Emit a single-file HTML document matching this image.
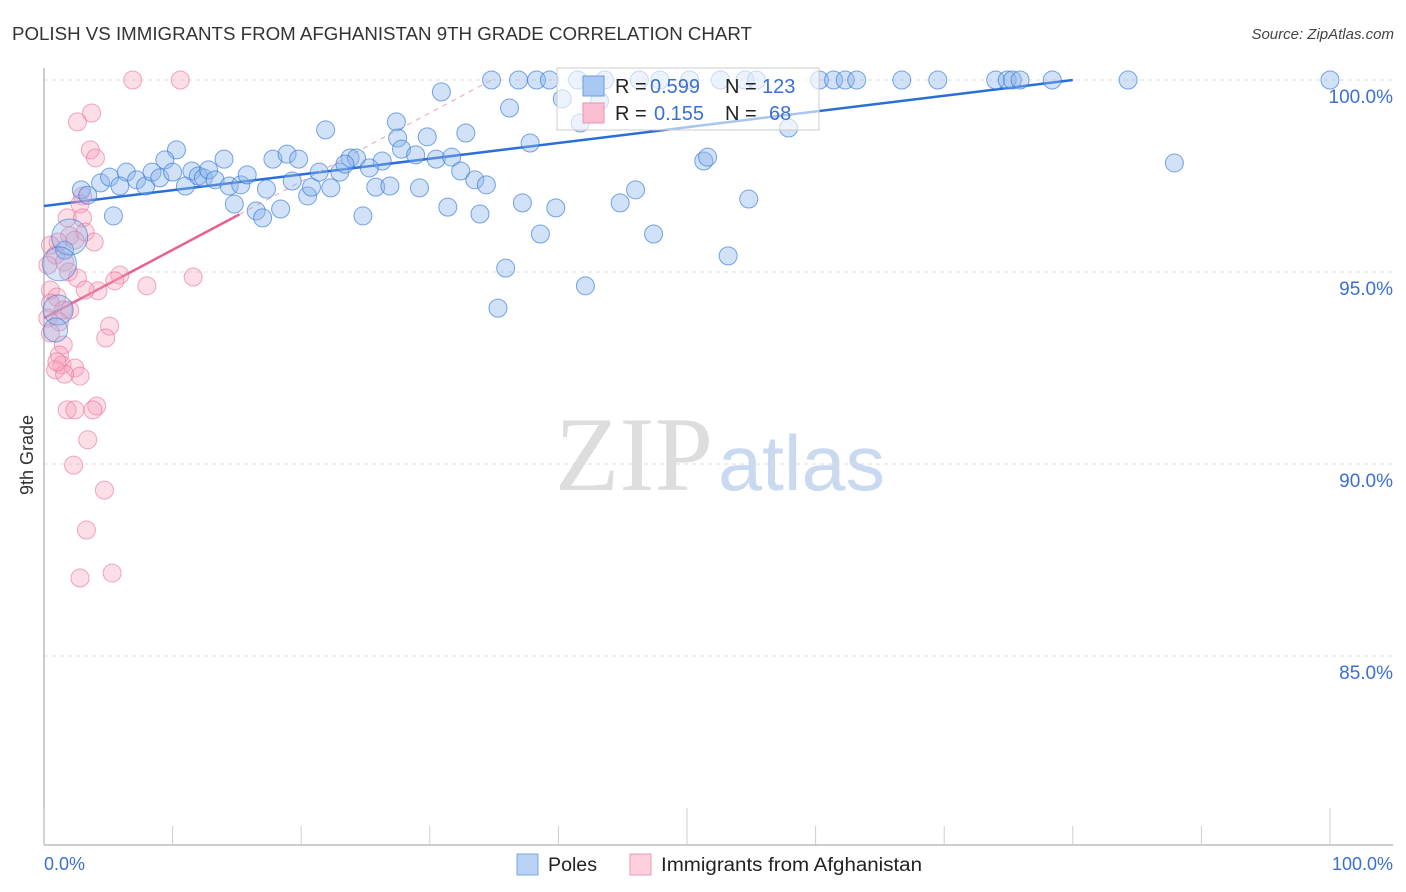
<!DOCTYPE html>
<html><head><meta charset="utf-8"><style>
body{margin:0;background:#fff;width:1406px;height:892px;overflow:hidden;font-family:"Liberation Sans",sans-serif}
svg{display:block}
</style></head><body>
<svg id="chart" width="1406" height="892" xmlns="http://www.w3.org/2000/svg">
<text x="12" y="40" font-size="18" fill="#333" textLength="740" lengthAdjust="spacingAndGlyphs">POLISH VS IMMIGRANTS FROM AFGHANISTAN 9TH GRADE CORRELATION CHART</text>
<text x="1394" y="39" font-size="15" fill="#444" font-style="italic" text-anchor="end">Source: ZipAtlas.com</text>
<text x="33" y="455" font-size="18" fill="#333" text-anchor="middle" transform="rotate(-90 33 455)">9th Grade</text>
<g>
<text x="555" y="490" font-size="106" font-family="Liberation Serif,serif" fill="#ddd" textLength="158" lengthAdjust="spacingAndGlyphs">ZIP</text>
<text x="718" y="490" font-size="78" fill="#c8d9f0" textLength="167" lengthAdjust="spacingAndGlyphs">atlas</text>
</g>
<g id="grid"></g><g id="axes"></g><g id="trend"></g><g id="pts"></g>
<g>
<rect x="557" y="68" width="262" height="62" fill="#fff" fill-opacity="0.6" stroke="#ccc"/>
<rect x="583" y="76" width="21" height="20" fill="#a9c8f2" stroke="#6b9be0"/>
<rect x="583" y="103" width="21" height="20" fill="#f9bfd0" stroke="#ee8fab"/>
<text x="615" y="93" font-size="20" fill="#222">R =</text>
<text x="650" y="93" font-size="20" fill="#3b6fd1">0.599</text>
<text x="725" y="93" font-size="20" fill="#222">N =</text>
<text x="762" y="93" font-size="20" fill="#3b6fd1">123</text>
<text x="615" y="120" font-size="20" fill="#222">R =</text>
<text x="654" y="120" font-size="20" fill="#3b6fd1">0.155</text>
<text x="725" y="120" font-size="20" fill="#222">N =</text>
<text x="769" y="120" font-size="20" fill="#3b6fd1">68</text>
</g>
<g>
<rect x="517" y="854" width="21" height="21" fill="#b8d3f5" stroke="#7aa6e3"/>
<text x="548" y="871" font-size="19" fill="#222" textLength="49" lengthAdjust="spacingAndGlyphs">Poles</text>
<rect x="630" y="854" width="21" height="21" fill="#fcd0dc" stroke="#ee9ab2"/>
<text x="661" y="871" font-size="19" fill="#222" textLength="261" lengthAdjust="spacingAndGlyphs">Immigrants from Afghanistan</text>
</g>
<text x="44" y="870" font-size="18" fill="#3b6fd1">0.0%</text>
<text x="1393" y="870" font-size="18" fill="#3b6fd1" text-anchor="end">100.0%</text>
</svg>
<script>
const yTicks=[100,95,90,85];
const yTickLabels=["100.0%","95.0%","90.0%","85.0%"];
const xTicks=[0,10,20,30,40,50,60,70,80,90,100];
const polesX=[34.8,36.9,38.3,39.3,41.5,43.6,46.3,47.9,50.2,52.6,54.5,55.4,60.3,61.4,62.3,63.2,66.7,69.5,74.0,74.9,75.3,75.9,78.4,84.3,100,
30.9,36.2,40.3,41.7,43.2,27.4,21.9,27.5,29.8,32.8,37.8,57.9,10.3,9.4,14.0,17.8,18.9,19.8,23.8,24.3,26.3,27.8,28.9,30.5,31.7,51.3,51.6,87.9,
2.9,4.4,5.1,6.4,7.2,5.9,7.9,8.4,9.0,10.0,11.0,11.5,12.0,12.4,12.8,13.3,14.4,15.3,15.8,17.3,19.3,20.5,20.8,21.4,22.3,23.0,23.4,25.3,25.8,26.9,29.2,32.4,33.5,34.4,
14.8,16.5,17.0,18.4,24.8,31.4,33.9,37.2,39.8,38.6,44.8,46.0,47.4,54.8,35.9,35.3,42.1,53.2,5.4,3.4,1.6];
const polesY=[100,100,100,100,100,100,100,100,100,100,100,100,100,100,100,100,100,100,100,100,100,100,100,100,100,
99.69,99.27,99.51,98.88,99.45,98.91,98.70,98.49,98.52,98.62,98.36,98.75,98.18,97.92,97.94,97.94,98.07,97.94,97.97,97.97,97.89,98.20,98.05,97.94,97.99,97.89,97.99,97.84,
97.14,97.32,97.47,97.60,97.40,97.24,97.24,97.60,97.45,97.60,97.24,97.63,97.50,97.45,97.66,97.40,97.24,97.27,97.53,97.16,97.37,96.98,97.21,97.60,97.19,97.60,97.81,97.71,97.21,97.24,97.19,97.63,97.40,97.27,
96.77,96.59,96.41,96.64,96.46,96.69,96.51,96.80,96.67,95.99,96.80,97.14,95.99,96.90,95.10,94.06,94.64,95.42,96.46,97.0,95.57];
const polesBigX=[2.0,1.2,1.1,0.9];
const polesBigY=[95.91,95.21,94.01,93.49];
const polesBigR=[18,17,15,12];
const afgX=[6.9,10.6,3.7,2.6,3.6,4.0,3.0,2.8,1.8,3.0,2.0,3.2,3.9,1.1,2.4,0.5,0.9,1.6,0.3,1.9,2.6,5.9,5.5,8.0,11.6,4.2,3.2,0.5,1.0,0.5,1.5,2.0,0.3,1.2,5.1,4.8,0.5,1.5,1.2,1.4,0.9,2.4,2.8,1.6,1.0,1.8,4.1,3.8,2.4,3.4,2.3,4.7,3.3,5.3,2.8];
const afgY=[100,100,99.14,98.91,98.18,97.97,96.98,96.77,96.41,96.41,95.94,96.04,95.78,95.78,95.83,95.70,95.44,95.26,95.18,95.00,94.84,94.92,94.77,94.64,94.87,94.51,94.53,94.53,94.35,94.19,94.01,94.01,93.80,93.70,93.59,93.28,93.41,93.10,92.84,92.58,92.45,92.50,92.29,92.34,92.66,91.41,91.51,91.41,91.41,90.63,89.97,89.32,88.28,87.16,87.03];
const polesTrend=[[0,96.72],[80,100]];
const afgTrend=[[0,93.8],[15.2,96.5]];
const afgTrendDash=[[15.2,96.5],[34.8,100]];

const NS="http://www.w3.org/2000/svg";
const sx=v=>44+v*12.86;
const sy=v=>80+(100-v)*38.4;
function mk(tag,attrs,parent){const e=document.createElementNS(NS,tag);for(const k in attrs)e.setAttribute(k,attrs[k]);parent.appendChild(e);return e;}
const grid=document.getElementById('grid'),axes=document.getElementById('axes'),trend=document.getElementById('trend'),pts=document.getElementById('pts');
yTicks.forEach((t,i)=>{
  const l=mk('line',{x1:44,x2:1393,y1:sy(t),y2:sy(t),stroke:'#ddd','stroke-dasharray':'4,4'},grid);
  
  
  const tx=mk('text',{x:1393,y:sy(t)+23,'font-size':19,fill:'#3b6fd1','text-anchor':'end'},grid);
  tx.textContent=yTickLabels[i];
  
  
});
const ya=mk('line',{x1:44,x2:44,y1:68,y2:845,stroke:'#bbb','stroke-width':1.5},axes);


const xa=mk('line',{x1:44,x2:1393,y1:845,y2:845,stroke:'#bbb','stroke-width':1.5},axes);


xTicks.forEach(t=>{
  const tl=mk('line',{x1:sx(t),x2:sx(t),y1:(t%50===0?808:826),y2:845,stroke:'#ccc'},axes);
  
  
});
const pb=mk('line',{x1:sx(polesTrend[0][0]),y1:sy(polesTrend[0][1]),x2:sx(polesTrend[1][0]),y2:sy(polesTrend[1][1]),stroke:'#2a6fd6','stroke-width':2.5},trend);


const pa=mk('line',{x1:sx(afgTrend[0][0]),y1:sy(afgTrend[0][1]),x2:sx(afgTrend[1][0]),y2:sy(afgTrend[1][1]),stroke:'#e8618c','stroke-width':2.5},trend);


const pd=mk('line',{x1:sx(afgTrendDash[0][0]),y1:sy(afgTrendDash[0][1]),x2:sx(afgTrendDash[1][0]),y2:sy(afgTrendDash[1][1]),stroke:'#e8a0b8','stroke-width':1,'stroke-dasharray':'5,5'},trend);


afgX.forEach((x,i)=>{
  const c=mk('circle',{cx:sx(x),cy:sy(afgY[i]),r:9,fill:'rgba(246,160,185,0.35)',stroke:'rgba(232,110,150,0.6)','stroke-width':1},pts);
  
  
});
polesX.forEach((x,i)=>{
  const c=mk('circle',{cx:sx(x),cy:sy(polesY[i]),r:9,fill:'rgba(140,180,235,0.4)',stroke:'rgba(50,120,215,0.65)','stroke-width':1},pts);
  
  
});
polesBigX.forEach((x,i)=>{
  const c=mk('circle',{cx:sx(x),cy:sy(polesBigY[i]),r:polesBigR[i],fill:'rgba(140,180,235,0.35)',stroke:'rgba(50,120,215,0.6)','stroke-width':1},pts);
  
  
});
</script>
</body></html>
